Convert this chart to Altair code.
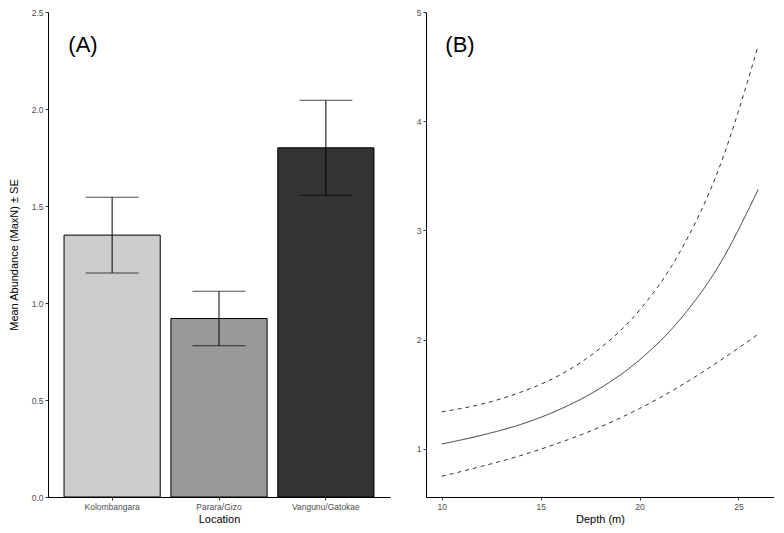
import altair as alt
import pandas as pd

# ---- Panel A data ----
locations = ["Kolombangara", "Parara/Gizo", "Vangunu/Gatokae"]
mean_abundance = [1.35, 0.92, 1.80]
se_lower = [1.155, 0.78, 1.555]
se_upper = [1.545, 1.06, 2.045]
bar_colors = ["#CCCCCC", "#999999", "#333333"]

# ---- Panel B data ----
depth = [10, 12, 14, 16, 18, 20, 22, 24, 26]
fit = [1.045, 1.125, 1.225, 1.365, 1.555, 1.815, 2.175, 2.675, 3.375]
ci_lower = [0.75, 0.84, 0.94, 1.06, 1.20, 1.37, 1.57, 1.80, 2.05]
ci_upper = [1.34, 1.41, 1.52, 1.68, 1.92, 2.27, 2.79, 3.56, 4.69]

panel_labels = ["(A)", "(B)"]

FONT = "Liberation Sans"

bars_df = pd.DataFrame({
    "Location": locations,
    "mean": mean_abundance,
    "lo": se_lower,
    "hi": se_upper,
})

x_loc = alt.X("Location:N", sort=locations,
              scale=alt.Scale(paddingInner=0.1, paddingOuter=0.15),
              axis=alt.Axis(title="Location", labelAngle=0))
y_abund = alt.Y("mean:Q", scale=alt.Scale(domain=[0, 2.5], nice=False, zero=True),
                axis=alt.Axis(title="Mean Abundance (MaxN) ± SE",
                              values=[0, 0.5, 1.0, 1.5, 2.0, 2.5], format=".1f",
                              titlePadding=12))

base_a = alt.Chart(bars_df)
bars = base_a.mark_bar(stroke="black", strokeWidth=1).encode(
    x=x_loc, y=y_abund,
    color=alt.Color("Location:N", sort=locations,
                    scale=alt.Scale(domain=locations, range=bar_colors), legend=None),
)
err = base_a.mark_rule(color="black", strokeWidth=1).encode(
    x=alt.X("Location:N", sort=locations), y="lo:Q", y2="hi:Q")
cap_hi = base_a.mark_tick(color="black", thickness=1, size=53).encode(
    x=alt.X("Location:N", sort=locations), y="hi:Q")
cap_lo = base_a.mark_tick(color="black", thickness=1, size=53).encode(
    x=alt.X("Location:N", sort=locations), y="lo:Q")
label_a = alt.Chart(pd.DataFrame({"t": [panel_labels[0]], "v": [2.33]})).mark_text(
    font=FONT, fontSize=22, color="black").encode(
    text="t:N", x=alt.value(35), y="v:Q")

panel_a = alt.layer(bars, err, cap_hi, cap_lo, label_a).properties(width=342, height=485)

# ---- Panel B ----
rows = []
for d, f, lo, hi in zip(depth, fit, ci_lower, ci_upper):
    rows.append({"Depth": d, "value": f, "series": "fit"})
    rows.append({"Depth": d, "value": lo, "series": "lower"})
    rows.append({"Depth": d, "value": hi, "series": "upper"})
lines_df = pd.DataFrame(rows)

lines = alt.Chart(lines_df).mark_line(color="#333333", strokeWidth=1,
                                      interpolate="monotone").encode(
    x=alt.X("Depth:Q", scale=alt.Scale(domain=[9.2, 26.8], nice=False, zero=False),
            axis=alt.Axis(title="Depth (m)", values=[10, 15, 20, 25], format="d")),
    y=alt.Y("value:Q", scale=alt.Scale(domain=[0.56, 5.0], nice=False, zero=False),
            axis=alt.Axis(title=None, values=[1, 2, 3, 4, 5], format="d")),
    detail="series:N",
    strokeDash=alt.StrokeDash("series:N",
                              scale=alt.Scale(domain=["fit", "lower", "upper"],
                                              range=[[1, 0], [4, 4], [4, 4]]),
                              legend=None),
)
label_b = alt.Chart(pd.DataFrame({"t": [panel_labels[1]], "d": [10.92], "v": [4.70]})).mark_text(
    font=FONT, fontSize=22, color="black").encode(text="t:N", x="d:Q", y="v:Q")

panel_b = alt.layer(lines, label_b).properties(width=348, height=485)

chart = alt.hconcat(panel_a, panel_b, spacing=26).resolve_scale(
    x="independent", y="independent", color="independent", strokeDash="independent"
).properties(padding={"left": 0, "top": 0, "right": 0, "bottom": 0}).configure_view(
    stroke=None
).configure_axis(
    grid=False,
    domainColor="black",
    domainWidth=1,
    tickColor="#333333",
    tickSize=3,
    labelColor="#4D4D4D",
    labelFont=FONT,
    labelFontSize=8.5,
    labelPadding=2,
    titleFont=FONT,
    titleFontSize=11,
    titleFontWeight="normal",
    titleColor="black",
    titlePadding=3,
)

chart.save("out.html", embed_options={"renderer": "svg", "actions": False})
